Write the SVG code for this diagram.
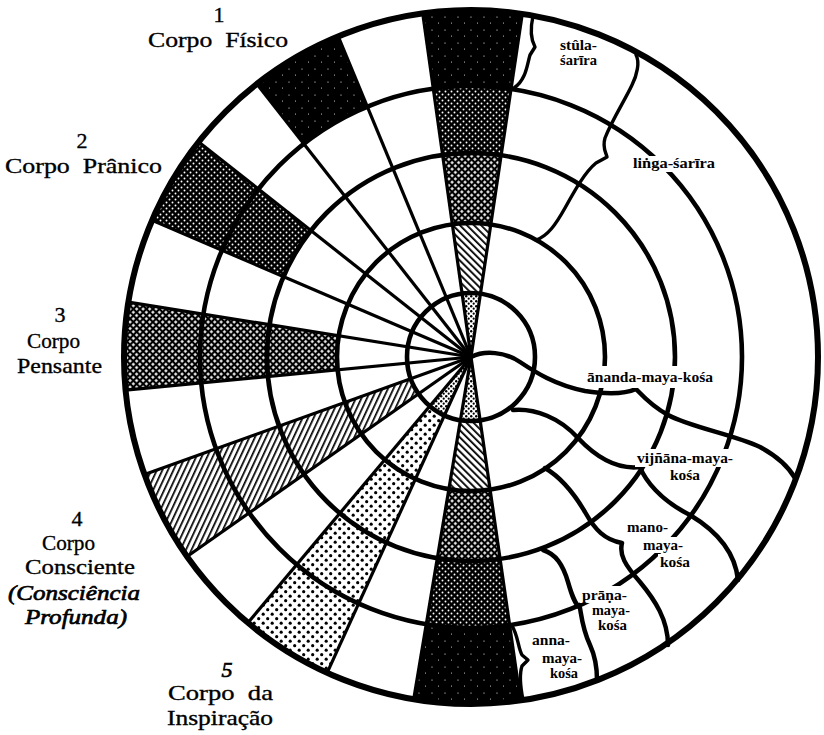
<svg xmlns="http://www.w3.org/2000/svg" width="824" height="735" viewBox="0 0 824 735">
<style>
.ray{stroke:#000;stroke-width:3.2;fill:none}
.ring{stroke:#000;stroke-width:4.6;fill:none}
.wave{stroke:#000;stroke-width:4.5;fill:none;stroke-linecap:round;stroke-linejoin:round}
.brace{stroke:#000;stroke-width:3.4;fill:none;stroke-linecap:round;stroke-linejoin:round}
.lbl{font-family:"Liberation Serif","Times New Roman",serif;font-size:22px;fill:#000;stroke:#000;stroke-width:0.35}
.it{font-style:italic;stroke-width:0.7}
.sk{font-family:"Liberation Serif","Times New Roman",serif;font-size:15px;font-weight:bold;fill:#000}
.bg{fill:#fff}
</style>
<defs>
<pattern id="pBlack" width="13" height="13" patternUnits="userSpaceOnUse"><rect width="13" height="13" fill="#000"/><circle cx="3" cy="4" r="0.6" fill="#fff"/><circle cx="9.5" cy="10" r="0.5" fill="#fff"/></pattern>
<pattern id="pDark" width="6" height="6" patternUnits="userSpaceOnUse"><rect width="6" height="6" fill="#000"/><circle cx="1.5" cy="1.5" r="0.95" fill="#fff"/><circle cx="4.5" cy="4.5" r="0.95" fill="#fff"/></pattern>
<pattern id="pCross" width="4.6" height="4.6" patternUnits="userSpaceOnUse" patternTransform="rotate(45)"><rect width="4.6" height="4.6" fill="#000"/><rect x="1.1" y="1.1" width="2.4" height="2.4" fill="#fff"/></pattern>
<pattern id="pHatchA" width="5" height="5" patternUnits="userSpaceOnUse" patternTransform="rotate(25)"><rect width="5" height="5" fill="#fff"/><rect width="1.7" height="5" fill="#000"/></pattern>
<pattern id="pHatchB" width="5" height="5" patternUnits="userSpaceOnUse" patternTransform="rotate(-45)"><rect width="5" height="5" fill="#fff"/><rect width="1.8" height="5" fill="#000"/></pattern>
<pattern id="pDots" width="9" height="9" patternUnits="userSpaceOnUse"><rect width="9" height="9" fill="#fff"/><circle cx="2.2" cy="2.2" r="1.6" fill="#000"/><circle cx="6.7" cy="6.7" r="1.6" fill="#000"/></pattern>
<pattern id="pDotsDense" width="5" height="5" patternUnits="userSpaceOnUse"><rect width="5" height="5" fill="#fff"/><circle cx="1.2" cy="1.2" r="1.2" fill="#000"/><circle cx="3.7" cy="3.7" r="1.1" fill="#000"/></pattern>
<clipPath id="wTop"><polygon points="471,357 534.6,-68.3 411.1,-68.8"/></clipPath>
<clipPath id="wBot"><polygon points="471,357 400,781.1 532.3,782.6"/></clipPath>
<clipPath id="wFis"><polygon points="471,357 306.4,-40.3 205.7,18.6"/></clipPath>
<clipPath id="wPra"><polygon points="471,357 133.5,90.5 75.8,187.6"/></clipPath>
<clipPath id="wPen"><polygon points="471,357 46.4,289 43,398.2"/></clipPath>
<clipPath id="wCon"><polygon points="471,357 66.4,502.6 119.2,604.3"/></clipPath>
<clipPath id="wIns"><polygon points="471,357 194.6,686.4 292.7,748.3"/></clipPath>
</defs>
<rect width="824" height="735" fill="#fff"/>

<g id="sectors">
<g id="band-top" clip-path="url(#wTop)">
<circle cx="471" cy="357" r="347" fill="url(#pBlack)"/>
<circle cx="471" cy="357" r="271" fill="url(#pDark)"/>
<circle cx="471" cy="357" r="204" fill="url(#pCross)"/>
<circle cx="471" cy="357" r="134" fill="url(#pHatchB)"/>
<circle cx="471" cy="357" r="64" fill="url(#pDotsDense)"/>
</g>
<g id="band-bottom" clip-path="url(#wBot)">
<circle cx="471" cy="357" r="347" fill="url(#pBlack)"/>
<circle cx="471" cy="357" r="271" fill="url(#pDark)"/>
<circle cx="471" cy="357" r="204" fill="url(#pCross)"/>
<circle cx="471" cy="357" r="134" fill="url(#pHatchB)"/>
<circle cx="471" cy="357" r="64" fill="url(#pDotsDense)"/>
</g>
<g id="sector-fisico" clip-path="url(#wFis)">
<circle cx="471" cy="357" r="347" fill="url(#pBlack)"/>
<circle cx="471" cy="357" r="271" fill="#fff"/>
</g>
<g id="sector-pranico" clip-path="url(#wPra)">
<circle cx="471" cy="357" r="347" fill="url(#pDark)"/>
<circle cx="471" cy="357" r="204" fill="#fff"/>
</g>
<g id="sector-pensante" clip-path="url(#wPen)">
<circle cx="471" cy="357" r="347" fill="url(#pCross)"/>
<circle cx="471" cy="357" r="134" fill="#fff"/>
</g>
<g id="sector-consciente" clip-path="url(#wCon)">
<circle cx="471" cy="357" r="347" fill="url(#pHatchA)"/>
<circle cx="471" cy="357" r="64" fill="#fff"/>
</g>
<g id="sector-inspiracao" clip-path="url(#wIns)">
<circle cx="471" cy="357" r="347" fill="url(#pDots)"/>
<circle cx="471" cy="357" r="64" fill="url(#pDotsDense)"/>
</g>
</g>

<g id="rays">
<line class="ray" x1="471" y1="357" x2="522.3" y2="13.8"/>
<line class="ray" x1="471" y1="357" x2="422.7" y2="13.4"/>
<line class="ray" x1="471" y1="357" x2="338.2" y2="36.4"/>
<line class="ray" x1="471" y1="357" x2="256.9" y2="83.9"/>
<line class="ray" x1="471" y1="357" x2="198.7" y2="141.9"/>
<line class="ray" x1="471" y1="357" x2="152.1" y2="220.3"/>
<line class="ray" x1="471" y1="357" x2="128.4" y2="302.1"/>
<line class="ray" x1="471" y1="357" x2="125.6" y2="390.2"/>
<line class="ray" x1="471" y1="357" x2="144.5" y2="474.5"/>
<line class="ray" x1="471" y1="357" x2="187.1" y2="556.5"/>
<line class="ray" x1="471" y1="357" x2="247.9" y2="622.8"/>
<line class="ray" x1="471" y1="357" x2="327.1" y2="672.8"/>
<line class="ray" x1="471" y1="357" x2="413.7" y2="699.2"/>
<line class="ray" x1="471" y1="357" x2="520.5" y2="700.5"/>
</g>

<g id="rings">
<circle class="ring" cx="471" cy="357" r="64"/>
<circle class="ring" cx="471" cy="357" r="134"/>
<circle class="ring" cx="471" cy="357" r="204"/>
<circle class="ring" cx="471" cy="357" r="271"/>
<circle cx="471" cy="357" r="347" fill="none" stroke="#000" stroke-width="6"/>
</g>

<g id="connectors">
<path class="wave" d="M471,357 C485,350 505,352 520,362 S555,385 585,391 C605,394 625,394 636,389 C642,395 650,405 668,415 C690,427 735,435 760,447 C775,455 788,466 795,478"/>
<path class="wave" d="M513,410 C535,408 560,418 578,438 C595,456 615,470 640,467 C645,480 660,500 690,515 C715,530 735,550 738,580" stroke-width="5"/>
<path class="wave" d="M545,468 C562,478 575,495 585,512 C595,530 605,540 622,543 C619,555 625,565 640,582 C655,600 668,620 668,645"/>
<path class="wave" d="M543,550 C556,554 563,565 568,582 C572,596 575,604 580,608 C582,620 583,630 590,645 C596,658 597,670 597,680"/>
<path class="brace" d="M512,626 C518,635 518,648 522,655 L528,660 L522,666 C519,675 521,690 523,700"/>
<path class="brace" d="M533,16 C531,25 530,38 535,47 L530,55 C527,65 526,80 514,88"/>
<path class="brace" d="M636,55 C640,62 637,75 632,85 C625,100 612,120 605,138 C602,148 606,152 607,157 L596,163 C585,172 575,190 565,208 C556,224 548,236 536,240"/>
</g>

<g id="sheath-labels">
<g id="lbl-sthula"><text class="sk" x="560" y="50" font-size="14" textLength="37" lengthAdjust="spacingAndGlyphs">stûla-</text><text class="sk" x="560" y="65" font-size="14" textLength="37" lengthAdjust="spacingAndGlyphs">śarīra</text></g>
<g id="lbl-linga"><rect class="bg" x="631" y="156" width="86" height="16"/><text class="sk" x="633" y="168" textLength="82" lengthAdjust="spacingAndGlyphs">liṅga-śarīra</text></g>
<g id="lbl-ananda"><rect class="bg" x="585" y="366" width="130" height="22"/><text class="sk" x="587" y="382" textLength="126" lengthAdjust="spacingAndGlyphs">ānanda-maya-kośa</text></g>
<g id="lbl-vijnana"><rect class="bg" x="635" y="449" width="100" height="18"/><rect class="bg" x="668" y="469" width="34" height="13"/><text class="sk" x="637" y="463" textLength="96" lengthAdjust="spacingAndGlyphs">vijñāna-maya-</text><text class="sk" x="670" y="480" textLength="30" lengthAdjust="spacingAndGlyphs">kośa</text></g>
<g id="lbl-mano"><rect class="bg" x="626" y="520" width="44" height="15"/><rect class="bg" x="641" y="537" width="45" height="16"/><rect class="bg" x="658" y="554" width="34" height="15"/><text class="sk" x="627" y="532" textLength="41" lengthAdjust="spacingAndGlyphs">mano-</text><text class="sk" x="643" y="550" textLength="40" lengthAdjust="spacingAndGlyphs">maya-</text><text class="sk" x="660" y="567" textLength="30" lengthAdjust="spacingAndGlyphs">kośa</text></g>
<g id="lbl-prana"><rect class="bg" x="580" y="586" width="49" height="17"/><rect class="bg" x="590" y="603" width="42" height="15"/><rect class="bg" x="596" y="618" width="33" height="14"/><text class="sk" x="582" y="600" textLength="45" lengthAdjust="spacingAndGlyphs">prāṇa-</text><text class="sk" x="592" y="615" textLength="38" lengthAdjust="spacingAndGlyphs">maya-</text><text class="sk" x="598" y="630" textLength="29" lengthAdjust="spacingAndGlyphs">kośa</text></g>
<g id="lbl-anna"><text class="sk" x="532" y="645" textLength="38" lengthAdjust="spacingAndGlyphs">anna-</text><text class="sk" x="542" y="663" textLength="40" lengthAdjust="spacingAndGlyphs">maya-</text><text class="sk" x="550" y="678" textLength="28" lengthAdjust="spacingAndGlyphs">kośa</text></g>
</g>

<g id="body-labels">
<g id="body-1"><text class="lbl" x="219" y="22" text-anchor="middle">1</text><text class="lbl" x="148" y="47" xml:space="preserve" textLength="140" lengthAdjust="spacingAndGlyphs">Corpo  Físico</text></g>
<g id="body-2"><text class="lbl" x="82" y="148" text-anchor="middle">2</text><text class="lbl" x="5" y="173" xml:space="preserve" textLength="157" lengthAdjust="spacingAndGlyphs">Corpo  Prânico</text></g>
<g id="body-3"><text class="lbl" x="60" y="322" text-anchor="middle">3</text><text class="lbl" x="27" y="348" textLength="53" lengthAdjust="spacingAndGlyphs">Corpo</text><text class="lbl" x="17" y="373" textLength="85" lengthAdjust="spacingAndGlyphs">Pensante</text></g>
<g id="body-4"><text class="lbl" x="77" y="526" text-anchor="middle">4</text><text class="lbl" x="42" y="550" textLength="53" lengthAdjust="spacingAndGlyphs">Corpo</text><text class="lbl" x="25" y="574" textLength="110" lengthAdjust="spacingAndGlyphs">Consciente</text><text class="lbl it" x="8" y="600" textLength="132" lengthAdjust="spacingAndGlyphs">(Consciência</text><text class="lbl it" x="25" y="624" textLength="102" lengthAdjust="spacingAndGlyphs">Profunda)</text></g>
<g id="body-5"><text class="lbl it" x="227" y="677" text-anchor="middle">5</text><text class="lbl" x="168" y="700" xml:space="preserve" textLength="105" lengthAdjust="spacingAndGlyphs">Corpo  da</text><text class="lbl" x="167" y="725" textLength="106" lengthAdjust="spacingAndGlyphs">Inspiração</text></g>
</g>
</svg>
